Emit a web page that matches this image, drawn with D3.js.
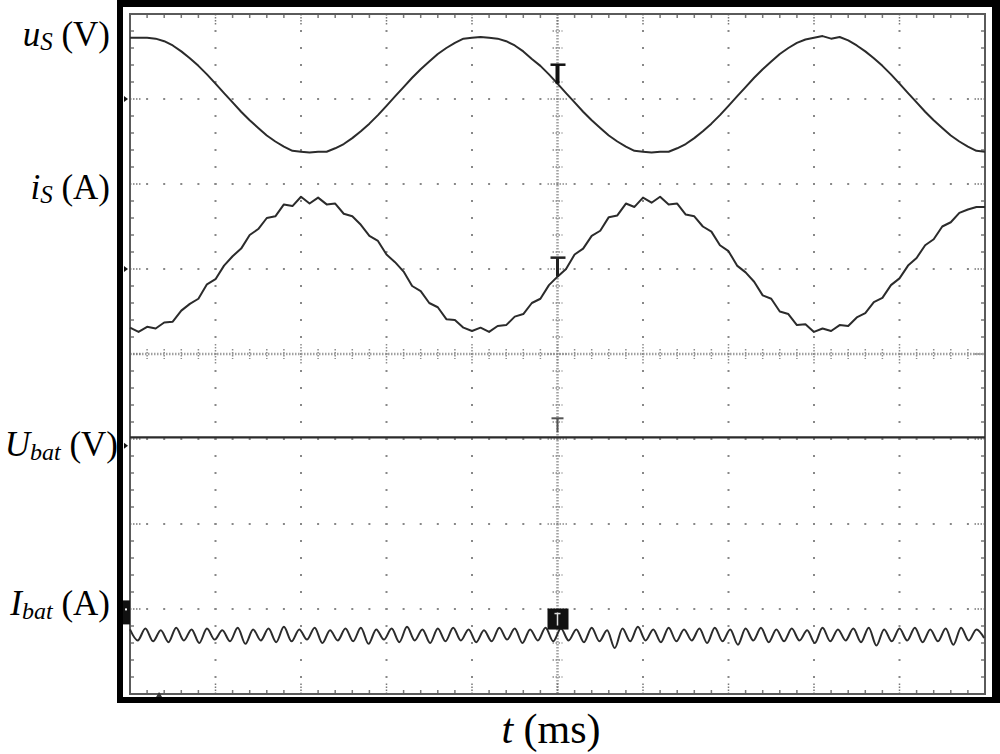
<!DOCTYPE html>
<html><head><meta charset="utf-8">
<script src="https://cdn.jsdelivr.net/npm/d3@7"></script>
<style>body{margin:0;background:#fff}svg{display:block}</style>
</head><body>
<svg id="c" width="1000" height="754"></svg>
<script>
// ---- data (time in ms, amplitude in screen divisions from centre line) ----
const T_STEP = 0.5;      // sample interval of uS / iS (ms)
const IBAT_STEP = 0.45;  // sample interval of Ibat (ms)
const UBAT_STEP = 2.5;   // sample interval of Ubat (ms)
const T_RANGE = [0, 50];
const DIV_RANGE = [-4, 4];

const uS = [3.72,3.72,3.72,3.71,3.68,3.63,3.56,3.48,3.39,3.29,3.18,3.07,2.96,2.85,2.75,2.66,2.57,2.50,2.44,2.39,
            2.38,2.37,2.38,2.38,2.42,2.47,2.54,2.62,2.71,2.81,2.92,3.03,3.14,3.25,3.35,3.44,3.53,3.60,3.66,3.71,
            3.72,3.73,3.72,3.71,3.68,3.63,3.56,3.47,3.39,3.29,3.18,3.07,2.96,2.85,2.75,2.66,2.57,2.50,2.44,2.39,
            2.38,2.37,2.38,2.38,2.42,2.47,2.54,2.62,2.71,2.81,2.92,3.03,3.14,3.25,3.35,3.44,3.53,3.60,3.66,3.70,
            3.72,3.74,3.71,3.73,3.69,3.63,3.56,3.48,3.39,3.29,3.18,3.07,2.96,2.85,2.75,2.66,2.57,2.50,2.44,2.39,2.38];

const iS = [0.31,0.26,0.32,0.30,0.37,0.38,0.51,0.59,0.65,0.82,0.88,1.04,1.15,1.24,1.40,1.47,1.60,1.62,1.76,1.74,
            1.85,1.77,1.84,1.76,1.77,1.65,1.62,1.52,1.39,1.33,1.17,1.08,0.97,0.80,0.74,0.60,0.55,0.41,0.40,0.31,
            0.27,0.31,0.26,0.33,0.34,0.44,0.47,0.60,0.65,0.81,0.91,1.00,1.17,1.24,1.39,1.45,1.61,1.63,1.77,1.73,
            1.84,1.78,1.85,1.76,1.77,1.64,1.62,1.50,1.44,1.28,1.21,1.04,0.96,0.85,0.69,0.65,0.50,0.47,0.34,0.35,
            0.26,0.30,0.27,0.34,0.33,0.43,0.48,0.61,0.66,0.81,0.89,1.04,1.13,1.28,1.35,1.50,1.55,1.66,1.70,1.73,1.73];

const uBat = [-0.98,-0.98,-0.98,-0.98,-0.98,-0.98,-0.98,-0.98,-0.98,-0.98,-0.98,
              -0.98,-0.98,-0.98,-0.98,-0.98,-0.98,-0.98,-0.98,-0.98,-0.98];

const iBat = [-3.24,-3.37,-3.23,-3.38,-3.25,-3.39,-3.22,-3.37,-3.24,-3.40,-3.23,-3.36,-3.25,-3.38,-3.22,-3.41,
              -3.24,-3.37,-3.23,-3.39,-3.21,-3.38,-3.24,-3.36,-3.22,-3.40,-3.25,-3.37,-3.23,-3.38,-3.22,-3.41,
              -3.24,-3.36,-3.23,-3.39,-3.21,-3.37,-3.24,-3.40,-3.23,-3.38,-3.22,-3.37,-3.24,-3.39,-3.25,-3.38,
              -3.22,-3.36,-3.23,-3.40,-3.24,-3.37,-3.22,-3.38,-3.23,-3.37,-3.24,-3.39,-3.22,-3.38,-3.25,-3.46,
              -3.23,-3.38,-3.21,-3.37,-3.24,-3.39,-3.22,-3.38,-3.24,-3.37,-3.23,-3.40,-3.22,-3.38,-3.24,-3.42,
              -3.23,-3.37,-3.22,-3.39,-3.24,-3.38,-3.23,-3.37,-3.25,-3.40,-3.22,-3.38,-3.24,-3.37,-3.23,-3.39,
              -3.22,-3.43,-3.24,-3.38,-3.23,-3.37,-3.22,-3.39,-3.24,-3.38,-3.23,-3.42,-3.22,-3.37,-3.24,-3.34];

const groundLevels = [3.0, 1.0, -1.08, -3.04];   // channel reference markers (left edge)
const CURSOR_T = 25;                               // time of the channel cursor markers

const labels = [
  {main:"u", sub:"S", unit:"V"},
  {main:"i", sub:"S", unit:"A"},
  {main:"U", sub:"bat", unit:"V"},
  {main:"I", sub:"bat", unit:"A"}
];
const xTitle = {main:"t", unit:"ms"};

// ---- drawing ----
const svg = d3.select('#c');
const X0 = 130, X1 = 985, Y0 = 14, Y1 = 694;
const x = d3.scaleLinear().domain(T_RANGE).range([X0, X1]);
const y = d3.scaleLinear().domain(DIV_RANGE).range([Y1, Y0]);

// outer thick frame
svg.append('rect').attr('x',117).attr('y',0).attr('width',883).attr('height',703).attr('fill','#000');
svg.append('rect').attr('x',123).attr('y',7).attr('width',869).attr('height',690).attr('fill','#fff');

const grid = svg.append('g');
const xMaj = x.ticks(10), yMaj = y.ticks(8), xMin = x.ticks(50), yMin = y.ticks(40);
const xC = (T_RANGE[0]+T_RANGE[1])/2, yC = 0;
const dotCol = '#888';

// graticule dots on the major lines
xMaj.filter(v => v > T_RANGE[0] && v < T_RANGE[1] && v !== xC).forEach(xv => {
  grid.append('g').selectAll('rect').data(yMin.filter(v => v > DIV_RANGE[0] && v < DIV_RANGE[1]))
    .join('rect').attr('x', x(xv)-1).attr('y', d => y(d)-1).attr('width',2).attr('height',2).attr('fill',dotCol);
});
yMaj.filter(v => v > DIV_RANGE[0] && v < DIV_RANGE[1] && v !== yC).forEach(yv => {
  grid.append('g').selectAll('rect').data(xMin.filter(v => v > T_RANGE[0] && v < T_RANGE[1]))
    .join('rect').attr('x', d => x(d)-1).attr('y', y(yv)-1).attr('width',2).attr('height',2).attr('fill',dotCol);
});

// centre axes: dense dotted lines with minor ticks
grid.append('line').attr('x1',X0).attr('x2',X1).attr('y1',y(yC)).attr('y2',y(yC))
  .attr('stroke','#a0a0a0').attr('stroke-width',2.5).attr('stroke-dasharray','1.5,1.5');
grid.append('line').attr('y1',Y0).attr('y2',Y1).attr('x1',x(xC)).attr('x2',x(xC))
  .attr('stroke','#a0a0a0').attr('stroke-width',2.5).attr('stroke-dasharray','1.5,1.5');
grid.append('g').selectAll('line').data(xMin.filter(v => v > T_RANGE[0] && v < T_RANGE[1])).join('line')
  .attr('x1', d => x(d)).attr('x2', d => x(d))
  .attr('y1', d => y(yC) - (xMaj.includes(d) ? 10 : 5)).attr('y2', d => y(yC) + (xMaj.includes(d) ? 10 : 5))
  .attr('stroke','#8c8c8c').attr('stroke-width',1.5).attr('stroke-dasharray','1.5,1.5');
grid.append('g').selectAll('line').data(yMin.filter(v => v > DIV_RANGE[0] && v < DIV_RANGE[1])).join('line')
  .attr('y1', d => y(d)).attr('y2', d => y(d))
  .attr('x1', d => x(xC) - (yMaj.includes(d) ? 10 : 5)).attr('x2', d => x(xC) + (yMaj.includes(d) ? 10 : 5))
  .attr('stroke','#8c8c8c').attr('stroke-width',1.5).attr('stroke-dasharray','1.5,1.5');

// border ticks
const bt = grid.append('g').attr('stroke','#777').attr('stroke-width',1.5);
xMin.filter(v => v > T_RANGE[0] && v < T_RANGE[1]).forEach(d => {
  const L = xMaj.includes(d) ? 12 : 4;
  const da = xMaj.includes(d) ? '1.5,1.5' : null;
  bt.append('line').attr('x1',x(d)).attr('x2',x(d)).attr('y1',Y0).attr('y2',Y0+L).attr('stroke-dasharray',da);
  bt.append('line').attr('x1',x(d)).attr('x2',x(d)).attr('y1',Y1).attr('y2',Y1-L).attr('stroke-dasharray',da);
});
yMin.filter(v => v > DIV_RANGE[0] && v < DIV_RANGE[1]).forEach(d => {
  const L = yMaj.includes(d) ? 12 : 4;
  const da = yMaj.includes(d) ? '1.5,1.5' : null;
  bt.append('line').attr('y1',y(d)).attr('y2',y(d)).attr('x1',X0).attr('x2',X0+L).attr('stroke-dasharray',da);
  bt.append('line').attr('y1',y(d)).attr('y2',y(d)).attr('x1',X1).attr('x2',X1-L).attr('stroke-dasharray',da);
});

// plot border
svg.append('rect').attr('x',X0).attr('y',Y0).attr('width',X1-X0).attr('height',Y1-Y0)
  .attr('fill','none').attr('stroke','#5a5a5a').attr('stroke-width',2);

// traces
const traceCol = '#2b2b2b';
function trace(vals, step, w, curve) {
  svg.append('path').datum(vals)
    .attr('d', d3.line().curve(curve || d3.curveLinear)
      .x((d,i) => x(Math.min(i*step, T_RANGE[1]))).y(d => y(d)))
    .attr('fill','none').attr('stroke',traceCol).attr('stroke-width',w).attr('stroke-linejoin','round');
}
trace(uS, T_STEP, 2);
trace(iS, T_STEP, 2);
trace(uBat, UBAT_STEP, 2.2);
trace(iBat, IBAT_STEP, 2, d3.curveMonotoneX);

// channel cursor markers at CURSOR_T
const xc = x(CURSOR_T);
const valAt = (vals, step) => vals[Math.round(CURSOR_T/step)];
[[uS, T_STEP, 4, '#111'], [iS, T_STEP, 3, '#222']].forEach(([vals, step, w, col]) => {
  const yb = y(valAt(vals, step)), yt = yb - 19;
  svg.append('line').attr('x1',xc).attr('x2',xc).attr('y1',yt).attr('y2',yb).attr('stroke',col).attr('stroke-width',w);
  svg.append('line').attr('x1',xc-7).attr('x2',xc+8).attr('y1',yt).attr('y2',yt).attr('stroke',col).attr('stroke-width',2.5);
});
{
  const yb = y(valAt(uBat, UBAT_STEP)) - 5, yt = yb - 14;
  svg.append('line').attr('x1',xc).attr('x2',xc).attr('y1',yt).attr('y2',yb).attr('stroke','#555').attr('stroke-width',2);
  svg.append('line').attr('x1',xc-6).attr('x2',xc+6).attr('y1',yt).attr('y2',yt).attr('stroke','#555').attr('stroke-width',2);
}
{
  const yb = y(valAt(iBat, IBAT_STEP)) + 1, yt = yb - 21;
  svg.append('rect').attr('x',xc-10).attr('y',yt).attr('width',21).attr('height',yb-yt).attr('fill','#111');
  svg.append('line').attr('x1',xc).attr('x2',xc).attr('y1',yt+4).attr('y2',yb-4).attr('stroke','#ddd').attr('stroke-width',1.5);
  svg.append('line').attr('x1',xc-3).attr('x2',xc+3).attr('y1',yt+5).attr('y2',yt+5).attr('stroke','#ddd').attr('stroke-width',1.5);
}

// ground (reference level) markers at left edge
groundLevels.slice(0,3).forEach(v => {
  svg.append('path').attr('d', `M${X0-6},${y(v)-3}L${X0-2},${y(v)}L${X0-6},${y(v)+3}Z`).attr('fill','#111');
});
{
  const v = groundLevels[3];
  svg.append('rect').attr('x',X0-7).attr('y',y(v)-12).attr('width',7).attr('height',24).attr('fill','#111');
  svg.append('rect').attr('x',X0-5).attr('y',y(v)-4).attr('width',2).attr('height',2).attr('fill','#fff');
}
// trigger position mark on the bottom border
svg.append('path').attr('d', `M${x(1.7)-3},${Y1+3}L${x(1.7)},${Y1-2}L${x(1.7)+3},${Y1+3}Z`).attr('fill','#333');

// labels
const FONT = '"Liberation Serif","Times New Roman",serif';
const labelPos = [[110, 46], [110, 199], [118, 456], [110, 615]];
labels.forEach((L, i) => {
  const [lx, ly] = labelPos[i];
  const t = svg.append('text').attr('x',lx).attr('y',ly).attr('text-anchor','end')
    .attr('font-family',FONT).attr('font-size',35).attr('fill','#000');
  t.append('tspan').attr('font-style','italic').text(L.main);
  t.append('tspan').attr('font-style','italic').attr('font-size', i >= 2 ? 24 : 25).attr('dy',4).text(L.sub);
  t.append('tspan').attr('dy',-4).text('\u00a0(' + L.unit + ')');
});
{
  const t = svg.append('text').attr('x', 551).attr('y', 743).attr('text-anchor','middle')
    .attr('font-family',FONT).attr('font-size',42).attr('fill','#000');
  t.append('tspan').attr('font-style','italic').text(xTitle.main);
  t.append('tspan').text('\u00a0(' + xTitle.unit + ')');
}
</script>
</body></html>
